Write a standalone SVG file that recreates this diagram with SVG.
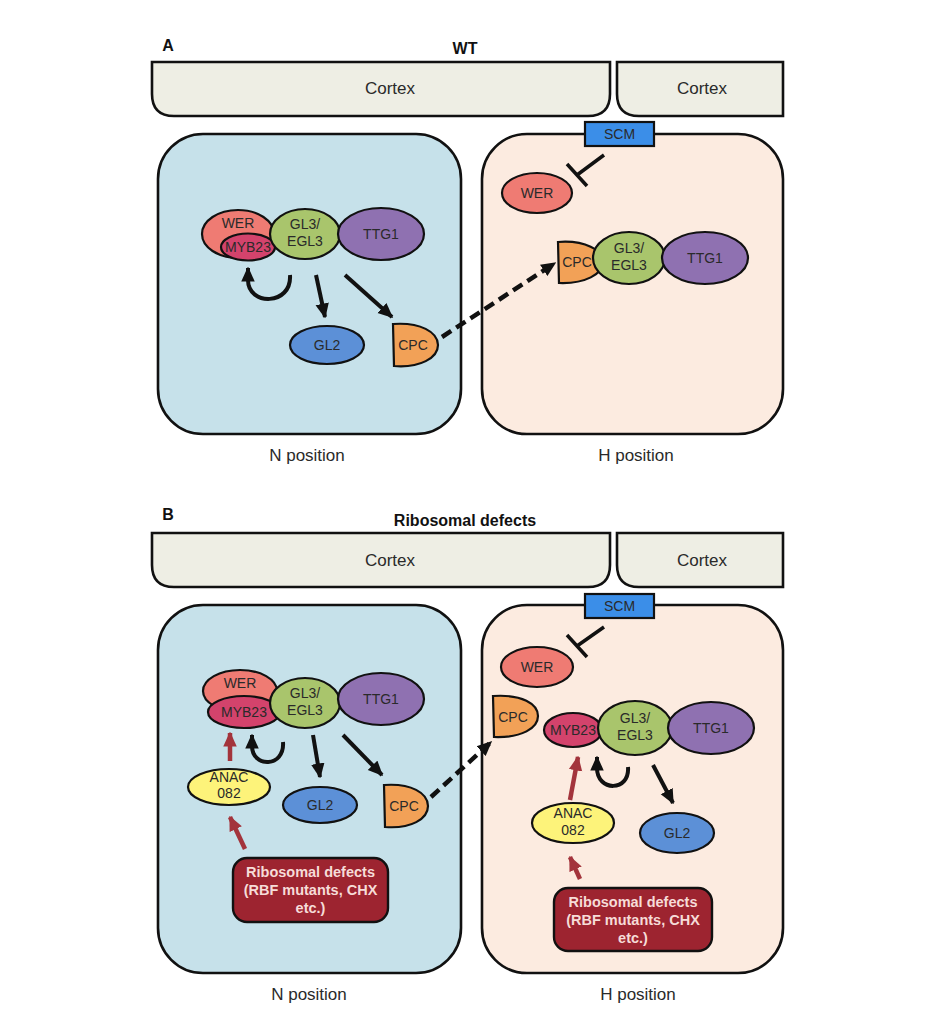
<svg xmlns="http://www.w3.org/2000/svg" width="935" height="1024" viewBox="0 0 935 1024">
<defs>
<style>
text{font-family:"Liberation Sans",Arial,sans-serif;fill:#2a2a2a;text-anchor:middle}
.lbl{font-size:14px}
.big{font-size:17px}
.hdr{font-size:16px;font-weight:bold;fill:#111}
.ribo{font-size:14.5px;font-weight:bold;fill:#f6dcd8}
.ol{stroke:#111;stroke-width:2.2}
.cell{stroke:#111;stroke-width:2.6}
.cortex{fill:#eeeee4;stroke:#111;stroke-width:2.6}
.wer{fill:#ef7b73}
.myb{fill:#d3436c}
.gl3{fill:#a9c56c}
.ttg{fill:#8f71b1}
.gl2{fill:#5c90d7}
.cpc{fill:#f2a157}
.anac{fill:#fdf37a}
.scm{fill:#3b8ee8;stroke:#111;stroke-width:2.2}
.rbox{fill:#9d2430;stroke:#111;stroke-width:2.4}
.arr{fill:none;stroke:#111;stroke-width:4;marker-end:url(#ah)}
.rarr{fill:none;stroke:#a3343c;stroke-width:4.5;marker-end:url(#rah)}
.dash{fill:none;stroke:#111;stroke-width:4.5;stroke-dasharray:11,6;marker-end:url(#ah)}
.inh{fill:none;stroke:#111;stroke-width:3.5}
</style>
<marker id="ah" viewBox="0 0 10 10" refX="9" refY="5" markerWidth="15" markerHeight="15" markerUnits="userSpaceOnUse" orient="auto"><path d="M0,0.5 L10,5 L0,9.5 Z" fill="#111"/></marker>
<marker id="rah" viewBox="0 0 10 10" refX="9" refY="5" markerWidth="15" markerHeight="15" markerUnits="userSpaceOnUse" orient="auto"><path d="M0,0.5 L10,5 L0,9.5 Z" fill="#a3343c"/></marker>
</defs>
<rect width="935" height="1024" fill="#ffffff"/>

<!-- ===== Panel A ===== -->
<g id="panelA-header">
<text x="168" y="51" class="hdr">A</text>
<text x="465" y="54" class="hdr">WT</text>
</g>
<g id="A-cortex-left">
<path class="cortex" d="M152,62 H610 V94 Q610,116 588,116 H174 Q152,116 152,94 Z"/>
<text x="390" y="94" class="big">Cortex</text>
</g>
<g id="A-cortex-right">
<path class="cortex" d="M617,62 H783 V116 H639 Q617,116 617,94 Z"/>
<text x="702" y="94" class="big">Cortex</text>
</g>
<g id="A-cell-N">
<rect x="158" y="134" width="303" height="300" rx="45" fill="#c6e1ea" class="cell"/>
<text x="307" y="461" class="big">N position</text>
</g>
<g id="A-cell-H">
<rect x="482" y="134" width="301" height="300" rx="45" fill="#fcebe0" class="cell"/>
<text x="636" y="461" class="big">H position</text>
</g>
<g id="A-SCM">
<rect x="585" y="122" width="69" height="24" class="scm"/>
<text x="619.5" y="139" class="lbl">SCM</text>
</g>
<g id="A-N-WER"><ellipse cx="238" cy="234" rx="36" ry="24" class="wer ol"/><text x="238" y="228" class="lbl">WER</text></g>
<g id="A-N-MYB23"><ellipse cx="248" cy="247" rx="27" ry="13.5" class="myb ol"/><text x="248" y="252" class="lbl">MYB23</text></g>
<g id="A-N-GL3"><ellipse cx="305" cy="234" rx="35" ry="25" class="gl3 ol"/><text x="305" y="229" class="lbl">GL3/</text><text x="305" y="246" class="lbl">EGL3</text></g>
<g id="A-N-TTG1"><ellipse cx="381" cy="234" rx="43" ry="26" class="ttg ol"/><text x="381" y="239" class="lbl">TTG1</text></g>
<g id="A-N-GL2"><ellipse cx="327" cy="345" rx="37" ry="19" class="gl2 ol"/><text x="327" y="350" class="lbl">GL2</text></g>
<g id="A-N-CPC"><path d="M393,324 C420,322 438,332 438,345 C438,358 420,368 394,366 Z" class="cpc ol"/><text x="413" y="350" class="lbl">CPC</text></g>
<g id="A-H-WER"><ellipse cx="537" cy="193" rx="35" ry="20" class="wer ol"/><text x="537" y="198" class="lbl">WER</text></g>
<g id="A-H-CPC"><path d="M558,242 C585,240 603,250 603,262 C603,274 585,284 559,283 Z" class="cpc ol"/><text x="577" y="267" class="lbl">CPC</text></g>
<g id="A-H-GL3"><ellipse cx="629" cy="258" rx="36" ry="26" class="gl3 ol"/><text x="629" y="253" class="lbl">GL3/</text><text x="629" y="270" class="lbl">EGL3</text></g>
<g id="A-H-TTG1"><ellipse cx="705" cy="258" rx="43" ry="26" class="ttg ol"/><text x="705" y="263" class="lbl">TTG1</text></g>

<!-- ===== Panel B ===== -->
<g id="panelB-header">
<text x="168" y="520" class="hdr">B</text>
<text x="465" y="526" class="hdr">Ribosomal defects</text>
</g>
<g id="B-cortex-left">
<path class="cortex" d="M152,533 H610 V565 Q610,587 588,587 H174 Q152,587 152,565 Z"/>
<text x="390" y="566" class="big">Cortex</text>
</g>
<g id="B-cortex-right">
<path class="cortex" d="M617,533 H783 V587 H639 Q617,587 617,565 Z"/>
<text x="702" y="566" class="big">Cortex</text>
</g>
<g id="B-cell-N">
<rect x="158" y="605" width="303" height="368" rx="45" fill="#c6e1ea" class="cell"/>
<text x="309" y="1000" class="big">N position</text>
</g>
<g id="B-cell-H">
<rect x="482" y="605" width="301" height="368" rx="45" fill="#fcebe0" class="cell"/>
<text x="638" y="1000" class="big">H position</text>
</g>
<g id="B-SCM">
<rect x="585" y="594" width="69" height="24" class="scm"/>
<text x="619.5" y="611" class="lbl">SCM</text>
</g>
<g id="B-N-WER"><ellipse cx="240" cy="691" rx="37" ry="21" class="wer ol"/><text x="240" y="688" class="lbl">WER</text></g>
<g id="B-N-MYB23"><ellipse cx="244" cy="712" rx="36" ry="16" class="myb ol"/><text x="244" y="717" class="lbl">MYB23</text></g>
<g id="B-N-GL3"><ellipse cx="305" cy="703" rx="35" ry="25" class="gl3 ol"/><text x="305" y="698" class="lbl">GL3/</text><text x="305" y="715" class="lbl">EGL3</text></g>
<g id="B-N-TTG1"><ellipse cx="381" cy="699" rx="43" ry="26" class="ttg ol"/><text x="381" y="704" class="lbl">TTG1</text></g>
<g id="B-N-ANAC082"><ellipse cx="229" cy="787" rx="41" ry="18" class="anac ol"/><text x="229" y="782" class="lbl">ANAC</text><text x="229" y="798" class="lbl">082</text></g>
<g id="B-N-GL2"><ellipse cx="320" cy="805" rx="37" ry="18" class="gl2 ol"/><text x="320" y="810" class="lbl">GL2</text></g>
<g id="B-N-CPC"><path d="M384,785 C411,783 428,793 428,806 C428,819 411,829 385,827 Z" class="cpc ol"/><text x="404" y="811" class="lbl">CPC</text></g>
<g id="B-N-ribo"><rect x="233" y="858" width="155" height="64" rx="14" class="rbox"/>
<text x="310.5" y="877" class="ribo">Ribosomal defects</text><text x="310.5" y="895" class="ribo">(RBF mutants, CHX</text><text x="310.5" y="913" class="ribo">etc.)</text></g>

<g id="B-H-WER"><ellipse cx="537" cy="667" rx="36" ry="20" class="wer ol"/><text x="537" y="672" class="lbl">WER</text></g>
<g id="B-H-CPC"><path d="M493,696 C522,694 538,704 538,716 C538,728 522,738 494,737 Z" class="cpc ol"/><text x="513" y="722" class="lbl">CPC</text></g>
<g id="B-H-MYB23"><ellipse cx="573" cy="730" rx="29" ry="17" class="myb ol"/><text x="573" y="735" class="lbl">MYB23</text></g>
<g id="B-H-GL3"><ellipse cx="635" cy="728" rx="37" ry="27" class="gl3 ol"/><text x="635" y="723" class="lbl">GL3/</text><text x="635" y="740" class="lbl">EGL3</text></g>
<g id="B-H-TTG1"><ellipse cx="711" cy="728" rx="43" ry="26" class="ttg ol"/><text x="711" y="733" class="lbl">TTG1</text></g>
<g id="B-H-ANAC082"><ellipse cx="573" cy="823" rx="41" ry="20" class="anac ol"/><text x="573" y="818" class="lbl">ANAC</text><text x="573" y="835" class="lbl">082</text></g>
<g id="B-H-GL2"><ellipse cx="677" cy="833" rx="37" ry="20" class="gl2 ol"/><text x="677" y="838" class="lbl">GL2</text></g>
<g id="B-H-ribo"><rect x="554" y="888" width="158" height="63" rx="14" class="rbox"/>
<text x="633" y="907" class="ribo">Ribosomal defects</text><text x="633" y="925" class="ribo">(RBF mutants, CHX</text><text x="633" y="943" class="ribo">etc.)</text></g>

<!-- ===== Connectors ===== -->
<g id="connectors">
<!-- Panel A -->
<path class="arr" d="M290,275 C292,306 248,306 248,280 L248,268"/>
<path class="arr" d="M316,275 L325,317"/>
<path class="arr" d="M345,275 L392,317"/>
<path class="dash" d="M442,337 L555,263"/>
<path class="inh" d="M604,155 L577,175 M567,164 L587,186"/>
<!-- Panel B -->
<path class="rarr" d="M230,761 L230,733"/>
<path class="rarr" d="M245,849 L230,817"/>
<path class="arr" d="M283,742 C285,768 252,768 252,746 L252,735"/>
<path class="arr" d="M313,735 L320,777"/>
<path class="arr" d="M343,735 L382,775"/>
<path class="dash" d="M431,797 L491,742"/>
<path class="inh" d="M604,627 L577,646 M567,635 L587,657"/>
<path class="rarr" d="M570,800 L578,757"/>
<path class="arr" d="M628,767 C630,792 597,792 597,768 L597,757"/>
<path class="arr" d="M653,765 L673,803"/>
<path class="rarr" d="M580,879 L570,857"/>
</g>
</svg>
